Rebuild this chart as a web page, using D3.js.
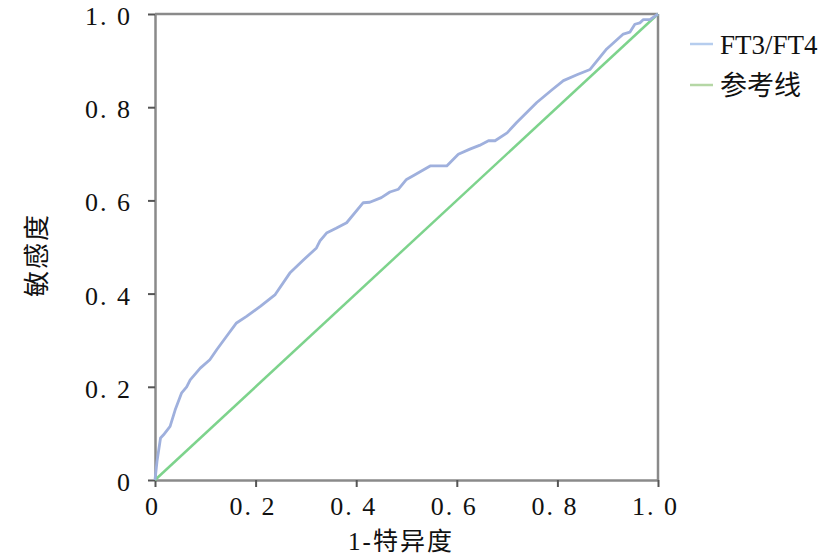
<!DOCTYPE html>
<html><head><meta charset="utf-8">
<script src="https://cdn.jsdelivr.net/npm/d3@7"></script>
<style>body{margin:0;background:#fff}svg{display:block}</style>
</head><body>
<script>
const rocX = [0,0.004,0.011,0.017,0.03,0.04,0.053,0.063,0.07,0.09,0.109,0.123,0.142,0.162,0.182,0.21,0.239,0.268,0.295,0.321,0.328,0.341,0.36,0.381,0.414,0.427,0.45,0.467,0.484,0.5,0.515,0.547,0.58,0.603,0.626,0.645,0.663,0.676,0.7,0.719,0.759,0.79,0.812,0.84,0.865,0.898,0.931,0.944,0.954,0.964,0.971,0.984,1.0];
const rocY = [0,0.04,0.09,0.097,0.115,0.15,0.187,0.2,0.215,0.24,0.258,0.28,0.308,0.337,0.351,0.373,0.398,0.444,0.472,0.498,0.513,0.53,0.54,0.552,0.595,0.596,0.606,0.618,0.624,0.645,0.654,0.674,0.674,0.699,0.71,0.718,0.728,0.728,0.745,0.767,0.81,0.838,0.857,0.87,0.881,0.925,0.957,0.961,0.978,0.981,0.988,0.988,1.0];
const refX = [0,1];
const refY = [0,1];
const tickVals = [0,0.2,0.4,0.6,0.8,1.0];
const tickLabels = ["0","0. 2","0. 4","0. 6","0. 8","1. 0"];
const seriesNames = ["FT3/FT4","参考线"];

const W=827,H=558;
const svg=d3.select("body").append("svg").attr("width",W).attr("height",H);
const x=d3.scaleLinear().domain([0,1]).range([155,658]);
const y=d3.scaleLinear().domain([0,1]).range([480,14]);
const font='"Liberation Serif","Noto Sans CJK SC",serif';
const axisCol="#8a8a8a";

svg.append("line").attr("x1",x(0)).attr("x2",x(1)).attr("y1",y(1)).attr("y2",y(1)).attr("stroke",axisCol).attr("stroke-width",2.5);
svg.append("line").attr("x1",x(1)).attr("x2",x(1)).attr("y1",y(1)).attr("y2",y(0)).attr("stroke",axisCol).attr("stroke-width",2.5);

const fmt=(d)=>tickLabels[tickVals.indexOf(d)];
const xa=svg.append("g").attr("transform",`translate(0,${y(0)})`).call(d3.axisBottom(x).tickValues(tickVals).tickFormat(fmt).tickSize(7).tickSizeOuter(0));
const ya=svg.append("g").attr("transform",`translate(${x(0)},0)`).call(d3.axisLeft(y).tickValues(tickVals).tickFormat(fmt).tickSize(7).tickSizeOuter(0));
[xa,ya].forEach(a=>{
  a.select(".domain").attr("stroke",axisCol).attr("stroke-width",2.5);
  a.selectAll(".tick line").attr("stroke","#555").attr("stroke-width",2);
  a.selectAll("text").attr("font-family",font).attr("font-size",26).attr("fill","#111").attr("letter-spacing",2);
});
xa.selectAll("text").attr("y",35).attr("dy",0).attr("x",-3);
ya.selectAll("text").attr("x",-23).attr("dy","0.4em");

const line=d3.line().x(d=>x(d[0])).y(d=>y(d[1]));
svg.append("path").datum(refX.map((v,i)=>[v,refY[i]])).attr("d",line).attr("fill","none").attr("stroke","#7dd38c").attr("stroke-width",2.5);
svg.append("path").datum(rocX.map((v,i)=>[v,rocY[i]])).attr("d",line).attr("fill","none").attr("stroke","#9fb0dd").attr("stroke-width",2.8).attr("stroke-linejoin","round");

const legCols=["#b6cdee","#b5d7a5"];
seriesNames.forEach((n,i)=>{
  const yy=44+i*41;
  svg.append("line").attr("x1",690).attr("x2",713).attr("y1",yy).attr("y2",yy).attr("stroke",legCols[i]).attr("stroke-width",2.5);
  svg.append("text").attr("x",720).attr("y",yy).attr("dy","0.36em").attr("font-family",font).attr("font-size",27).attr("fill","#111").text(n);
});

svg.append("text").attr("x",401).attr("y",550).attr("text-anchor","middle").attr("font-family",font).attr("font-size",25).attr("letter-spacing",2).attr("fill","#111").text("1-特异度");
svg.append("text").attr("transform","translate(46,255) rotate(-90)").attr("text-anchor","middle").attr("font-family",font).attr("font-size",26).attr("letter-spacing",2).attr("fill","#111").text("敏感度");
</script>
</body></html>
